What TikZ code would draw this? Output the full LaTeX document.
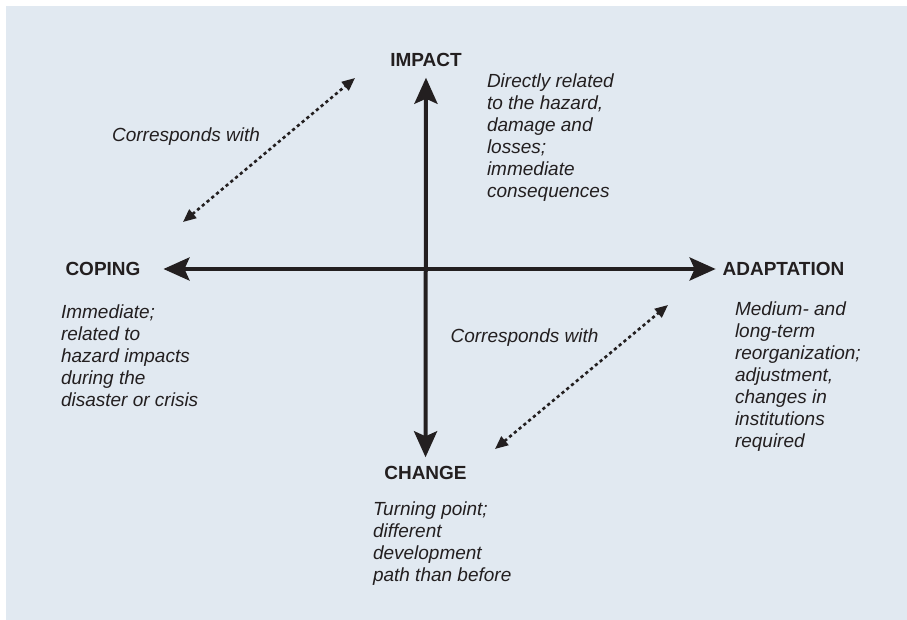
\documentclass[tikz,border=0pt]{standalone}
\usepackage{fontspec}
\setmainfont{Liberation Sans}
\usetikzlibrary{arrows.meta}
\definecolor{panel}{HTML}{E1E9F1}
\definecolor{ink}{HTML}{231F20}
\begin{document}
\begin{tikzpicture}[x=1pt,y=-1pt,
  every node/.style={inner sep=0pt, outer sep=0pt, text=ink},
  pole/.style={font=\fontsize{19}{22}\selectfont\bfseries},
  note/.style={font=\fontsize{19}{22}\selectfont\itshape, align=left, anchor=north west},
  axis/.style={draw=ink, line width=4pt, {Stealth[length=26pt,width=23pt,inset=5pt]}-{Stealth[length=26pt,width=23pt,inset=5pt]}},
  link/.style={draw=ink, line width=2.6pt, dash pattern=on 3.2pt off 3pt,
    {Triangle[length=13pt,width=11pt]}-{Triangle[length=13pt,width=11pt]}}
]
\useasboundingbox (0,0) rectangle (907,620);
\fill[panel] (6,6) rectangle (907,620);

% the four poles
\node[pole] (impact) at (426,60) {IMPACT};
\node[pole] (change) at (425.5,473) {CHANGE};
\node[pole] (coping) at (103,269) {COPING};
\node[pole] (adapt) at (783.5,269) {ADAPTATION};

% descriptions
\node[note] (impactnote) at (487,74) {Directly related\\to the hazard,\\damage and\\losses;\\immediate\\consequences};
\node[note] (copingnote) at (61,305) {Immediate;\\related to\\hazard impacts\\during the\\disaster or crisis};
\node[note] (adaptnote) at (735,302) {Medium- and\\long-term\\reorganization;\\adjustment,\\changes in\\institutions\\required};
\node[note] (changenote) at (373,502) {Turning point;\\different\\development\\path than before};

% correspondence labels
\node[note, anchor=center] (corr1) at (186,137) {Corresponds with};
\node[note, anchor=center] (corr2) at (524.5,338) {Corresponds with};

% axes
\draw[axis, shorten <=9pt, shorten >=11pt] (change) -- (impact);
\draw[axis, shorten <=23pt, shorten >=7pt] (coping) -- (adapt);

% dotted correspondence arrows
\coordinate (l1a) at (183,222);
\coordinate (l1b) at (355,78);
\coordinate (l2a) at (495,449);
\coordinate (l2b) at (668,305);
\draw[link] (l1a) -- (l1b);
\draw[link] (l2a) -- (l2b);
\end{tikzpicture}
\end{document}
